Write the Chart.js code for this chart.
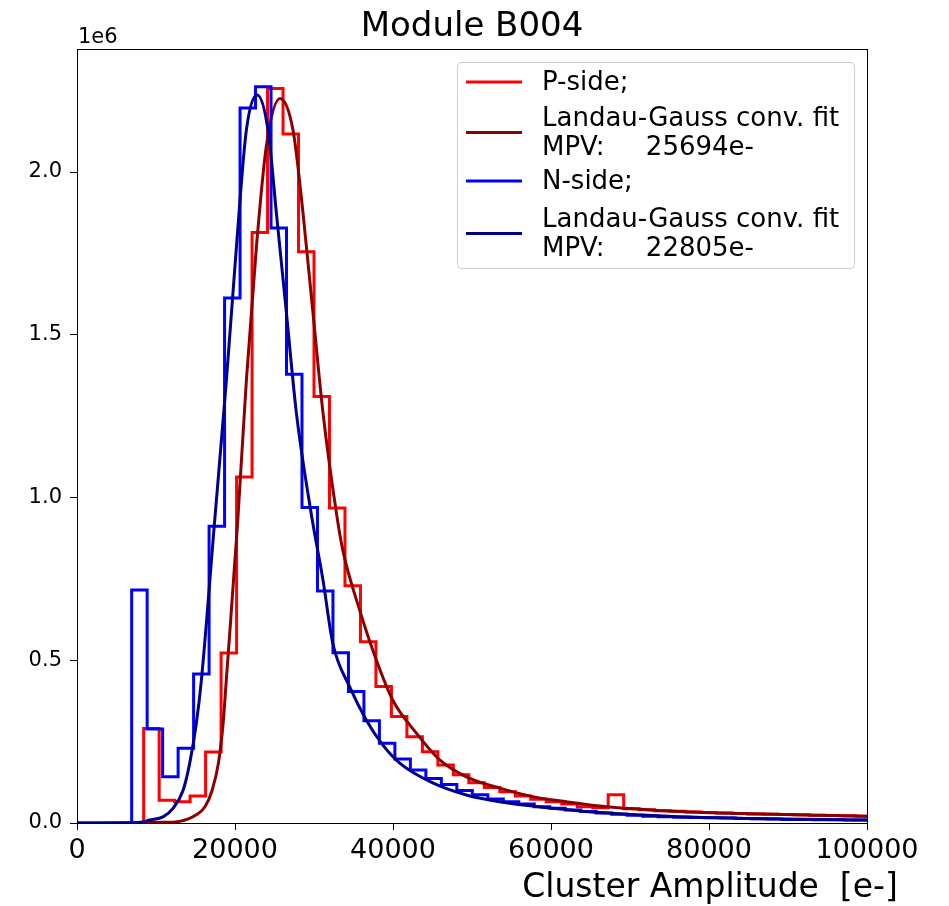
<!DOCTYPE html>
<html>
<head>
<meta charset="utf-8">
<script src="https://cdn.jsdelivr.net/npm/chart.js@4.4.1/dist/chart.umd.min.js"></script>
<style>
  html, body { margin: 0; padding: 0; background: #fff; }
</style>
</head>
<body>
<canvas id="grafico" width="949" height="906"></canvas>
<script>
// textos
const titulo = "Module B004";
const tituloX = "Cluster Amplitude  [e-]";
const fatorY = "1e6";

// marcas dos eixos
const ticksX = [0, 20000, 40000, 60000, 80000, 100000];
const ticksY = [0, 500000, 1000000, 1500000, 2000000];

// histogramas (bins de largura fixa, contagens)
const pBinInicio = 8440;
const pBinLargura = 1960;
const pContagens = [290000, 70000, 65000, 83000, 218000, 522000, 1063000, 1814000, 2257000, 2117000,
  1755000, 1310000, 968000, 729000, 557000, 419000, 327000, 265000, 219000, 178000,
  148000, 124000, 109000, 96000, 83000, 73000, 65000, 58000, 50000, 47000,
  87000, 44000, 41000, 38000, 36000, 34000, 32000, 31000, 29000, 28000,
  27000, 26000, 25000, 24000, 23000, 22000, 21000, 21000];

const nBinInicio = 6920;
const nBinLargura = 1960;
const nContagens = [716000, 289000, 142000, 230000, 458000, 912000, 1613000, 2197000, 2262000, 1828000,
  1379000, 969000, 713000, 523000, 404000, 314000, 245000, 197000, 163000, 137000,
  118000, 100000, 87000, 74000, 65000, 58000, 50000, 45000, 40000, 35000,
  31000, 27000, 24000, 21000, 19000, 18000, 17000, 16000, 15000, 14000,
  13000, 12000, 11000, 11000, 10000, 10000, 9000, 9000];

// curvas de ajuste Landau-Gauss
const pAjusteX = [0, 10850, 13000, 15100, 16200, 17100, 17900, 18500, 18900, 20350, 21440, 22710, 23970,
  25690, 27340, 28610, 29870, 31140, 32840, 33630, 35780, 37900, 39960, 42960, 45910,
  49290, 53510, 57680, 61950, 66160, 76290, 100000];
const pAjusteY = [0, 2000, 5000, 25000, 50000, 100000, 184000, 307000, 440000, 930000, 1360000, 1770000, 2080000,
  2226000, 2129000, 1874000, 1567000, 1260000, 952000, 840000, 654000, 500000, 378000, 276000, 194000,
  142000, 107000, 81000, 65000, 52000, 35000, 21000];

const nAjusteX = [0, 7000, 8000, 9200, 10890, 12150, 13420, 14270, 15110, 15750, 17430, 18910, 20180,
  21440, 22800, 24180, 25240, 26510, 27770, 29650, 31140, 32370, 34520, 36630, 38700,
  40850, 45030, 49290, 53510, 59830, 66160, 76290, 100000];
const nAjusteY = [0, 0, 2000, 9000, 19000, 45000, 100000, 184000, 307000, 440000, 930000, 1360000, 1770000,
  2129000, 2237000, 2129000, 1874000, 1567000, 1260000, 950000, 746000, 553000, 418000, 316000, 240000,
  184000, 123000, 86000, 65000, 46000, 32000, 19000, 9000];

// legenda
const legendaItens = [
  { cor: "#ff0000", linhas: ["P-side;"] },
  { cor: "#8b0000", linhas: ["Landau-Gauss conv. fit", "MPV:     25694e-"] },
  { cor: "#0000ff", linhas: ["N-side;"] },
  { cor: "#00008b", linhas: ["Landau-Gauss conv. fit", "MPV:     22805e-"] },
];

function pontosHistograma(inicio, largura, contagens) {
  const pts = [{ x: inicio, y: 0 }];
  contagens.forEach((c, i) => pts.push({ x: inicio + i * largura, y: c }));
  pts.push({ x: inicio + contagens.length * largura, y: 0 });
  return pts;
}

function pontosCurva(xs, ys) {
  return xs.map((x, i) => ({ x: x, y: ys[i] }));
}

const fonte = '"DejaVu Sans", sans-serif';

const extras = {
  id: "extras",
  afterDraw(chart) {
    const ctx = chart.ctx;
    const a = chart.chartArea;
    ctx.save();

    // moldura do gráfico
    ctx.strokeStyle = "#000";
    ctx.lineWidth = 1;
    ctx.strokeRect(a.left + 0.5, a.top + 0.5, a.right - a.left, a.bottom - a.top);

    ctx.fillStyle = "#000";
    ctx.textBaseline = "alphabetic";

    ctx.textAlign = "center";
    ctx.font = "34px " + fonte;
    ctx.fillText(titulo, (a.left + a.right) / 2, 36);

    ctx.font = "33px " + fonte;
    ctx.fillText(tituloX, 710, 897);

    ctx.textAlign = "left";
    ctx.font = "21px " + fonte;
    ctx.fillText(fatorY, 78, 43);

    // legenda
    const lx = 457.5, ly = 62.5, lw = 397, lh = 206;
    ctx.beginPath();
    ctx.roundRect(lx, ly, lw, lh, 4);
    ctx.fillStyle = "rgba(255,255,255,0.8)";
    ctx.fill();
    ctx.strokeStyle = "#cccccc";
    ctx.stroke();

    const centros = [82, 132.5, 181, 233.5];
    const passo = 29;
    ctx.font = "26px " + fonte;
    ctx.textBaseline = "middle";
    legendaItens.forEach((item, i) => {
      const cy = centros[i];
      ctx.strokeStyle = item.cor;
      ctx.lineWidth = 3;
      ctx.beginPath();
      ctx.moveTo(466, cy);
      ctx.lineTo(522, cy);
      ctx.stroke();
      ctx.fillStyle = "#000";
      const y0 = cy - (item.linhas.length - 1) * passo / 2;
      item.linhas.forEach((t, j) => ctx.fillText(t, 542, y0 + j * passo + 1));
    });

    ctx.restore();
  },
};

const ctx = document.getElementById("grafico");

new Chart(ctx, {
  type: "line",
  data: {
    datasets: [
      {
        label: "P-side;",
        data: pontosHistograma(pBinInicio, pBinLargura, pContagens),
        borderColor: "#ff0000",
        borderWidth: 3,
        stepped: true,
        pointRadius: 0,
        fill: false,
        order: 4,
      },
      {
        label: "Landau-Gauss conv. fit",
        data: pontosCurva(pAjusteX, pAjusteY),
        borderColor: "#8b0000",
        borderWidth: 3,
        cubicInterpolationMode: "monotone",
        pointRadius: 0,
        fill: false,
        order: 3,
      },
      {
        label: "N-side;",
        data: pontosHistograma(nBinInicio, nBinLargura, nContagens),
        borderColor: "#0000ff",
        borderWidth: 3,
        stepped: true,
        pointRadius: 0,
        fill: false,
        order: 2,
      },
      {
        label: "Landau-Gauss conv. fit",
        data: pontosCurva(nAjusteX, nAjusteY),
        borderColor: "#00008b",
        borderWidth: 3,
        cubicInterpolationMode: "monotone",
        pointRadius: 0,
        fill: false,
        order: 1,
      },
    ],
  },
  options: {
    responsive: false,
    animation: false,
    layout: { padding: { top: 49, right: 82, left: 0, bottom: 0 } },
    plugins: {
      legend: { display: false },
      title: { display: false },
      tooltip: { enabled: false },
    },
    scales: {
      x: {
        type: "linear",
        min: 0,
        max: 100000,
        border: { display: false },
        grid: { drawOnChartArea: false, drawTicks: true, tickLength: 7, color: "#000" },
        afterBuildTicks: (s) => { s.ticks = ticksX.map((v) => ({ value: v })); },
        ticks: {
          color: "#000",
          font: { family: "DejaVu Sans", size: 27 },
          padding: 5,
          maxRotation: 0,
          autoSkip: false,
          callback: (v) => String(v),
        },
        afterFit: (s) => { s.height = 83; },
      },
      y: {
        type: "linear",
        min: 0,
        max: 2378000,
        border: { display: false },
        grid: { drawOnChartArea: false, drawTicks: true, tickLength: 7, color: "#000" },
        afterBuildTicks: (s) => { s.ticks = ticksY.map((v) => ({ value: v })); },
        ticks: {
          color: "#000",
          font: { family: "DejaVu Sans", size: 21 },
          padding: 8,
          callback: (v) => (v / 1e6).toFixed(1),
        },
        afterFit: (s) => { s.width = 77; },
      },
    },
  },
  plugins: [extras],
});
</script>
</body>
</html>
